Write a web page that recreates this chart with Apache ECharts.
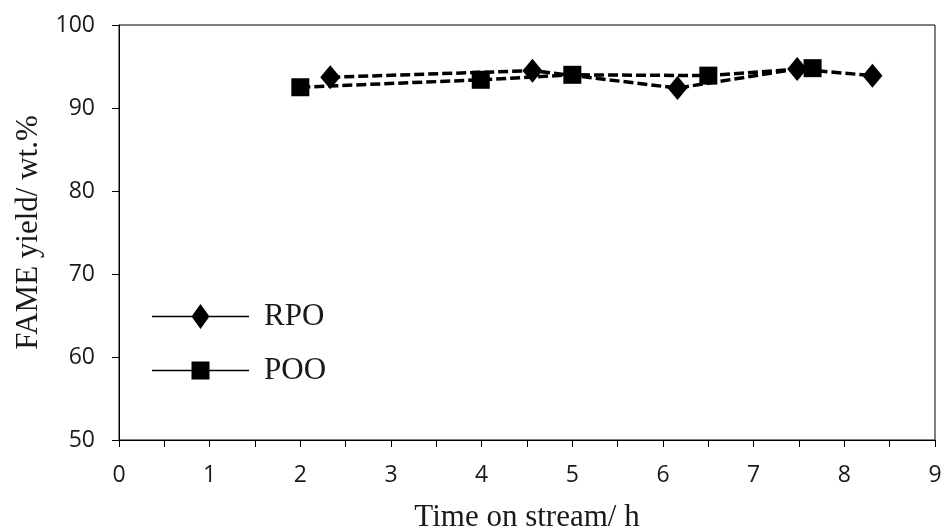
<!DOCTYPE html>
<html>
<head>
<meta charset="utf-8">
<script src="https://cdn.jsdelivr.net/npm/echarts@6/dist/echarts.min.js"></script>
<style>
  html, body { margin: 0; padding: 0; background: #fff; }
  #chart { width: 944px; height: 528px; }
</style>
</head>
<body>
<div id="chart"></div>
<script>
// Time on stream (h) and FAME yield (wt.%) for each oil feed
const rpoTime = [2.33, 4.56, 6.16, 7.48, 8.31];
const rpoYield = [93.7, 94.5, 92.4, 94.7, 93.9];
const pooTime = [2.0, 3.99, 5.0, 6.5, 7.65];
const pooYield = [92.5, 93.4, 94.0, 93.9, 94.8];
const seriesNames = ['RPO', 'POO'];
const xTitle = 'Time on stream/ h';
const yTitle = 'FAME yield/ wt.%';

const pairs = (xs, ys) => xs.map((x, i) => [x, ys[i]]);

// Legend keys: a solid line with the series marker in the middle
const diamondKey = 'path://M0,11.75L97,11.75L97,13.25L0,13.25Z M48.5,0L57.5,12.5L48.5,25L39.5,12.5Z';
const squareKey = 'path://M0,8.25L97,8.25L97,9.75L0,9.75Z M39.5,0L57.5,0L57.5,18L39.5,18Z';

const chart = echarts.init(document.getElementById('chart'), null, { renderer: 'canvas' });

const tickFont = { fontFamily: 'Open Sans', fontSize: 23, color: '#1a1a1a' };
const titleFont = { fontFamily: 'Liberation Serif', fontSize: 31, color: '#1a1a1a' };

chart.setOption({
  animation: false,
  backgroundColor: '#fff',
  grid: {
    left: 119, right: 9, top: 25, bottom: 88,
    containLabel: false, outerBoundsMode: 'none',
    show: true, borderColor: '#000', borderWidth: 1, backgroundColor: 'transparent'
  },
  legend: {
    orient: 'vertical',
    left: 147, top: 296,
    itemWidth: 97, itemHeight: 25,
    itemGap: 23,
    symbolKeepAspect: true,
    textStyle: Object.assign({}, titleFont, { padding: [0, 0, 0, 10] }),
    data: [
      { name: seriesNames[0], icon: diamondKey, itemStyle: { color: '#000', borderWidth: 0 } },
      { name: seriesNames[1], icon: squareKey, itemStyle: { color: '#000', borderWidth: 0 } }
    ]
  },
  xAxis: {
    type: 'value', min: 0, max: 9, interval: 1,
    name: xTitle, nameLocation: 'middle', nameGap: 62,
    nameTextStyle: titleFont,
    axisLine: { show: true, lineStyle: { color: '#000', width: 1 } },
    axisTick: { show: true, inside: false, length: 7, lineStyle: { color: '#000' } },
    minorTick: { show: true, splitNumber: 2, length: 7, lineStyle: { color: '#000' } },
    axisLabel: Object.assign({ margin: 24 }, tickFont),
    splitLine: { show: false }
  },
  yAxis: {
    type: 'value', min: 50, max: 100, interval: 10,
    name: yTitle, nameLocation: 'middle', nameGap: 72, nameRotate: 90,
    nameTextStyle: titleFont,
    axisLine: { show: true, lineStyle: { color: '#000', width: 1 } },
    axisTick: { show: true, inside: false, length: 7, lineStyle: { color: '#000' } },
    axisLabel: Object.assign({ margin: 24 }, tickFont),
    splitLine: { show: false }
  },
  series: [
    {
      name: seriesNames[0], type: 'line',
      data: pairs(rpoTime, rpoYield),
      symbol: 'diamond', symbolSize: [20, 24],
      itemStyle: { color: '#000' },
      lineStyle: { color: '#000', width: 3.5, type: [10, 4] },
      z: 3
    },
    {
      name: seriesNames[1], type: 'line',
      data: pairs(pooTime, pooYield),
      symbol: 'rect', symbolSize: 18,
      itemStyle: { color: '#000' },
      lineStyle: { color: '#000', width: 3.5, type: [10, 4] },
      z: 2
    }
  ]
});
</script>
</body>
</html>
